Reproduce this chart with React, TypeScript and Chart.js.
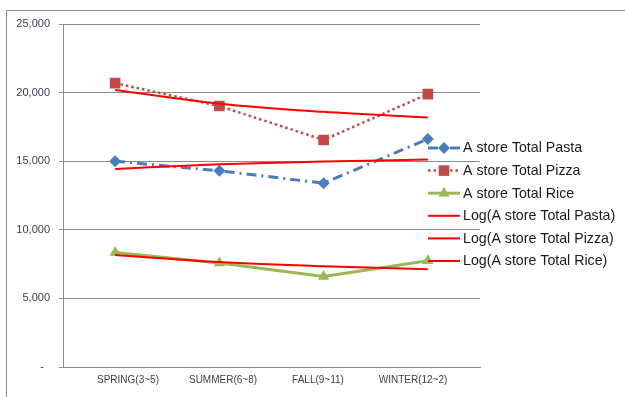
import React, { useEffect, useRef } from "react";
import { Chart, registerables } from "chart.js";

Chart.register(...registerables);

const categories = ["SPRING(3~5)", "SUMMER(6~8)", "FALL(9~11)", "WINTER(12~2)"];
const pastaValues = [15000, 14300, 13400, 16620];
const pizzaValues = [20690, 19020, 16550, 19890];
const riceValues = [8350, 7580, 6600, 7750];
// logarithmic trend lines
const pastaTrend = [14440, 14780, 14980, 15120];
const pizzaTrend = [20190, 19190, 18600, 18180];
const riceTrend = [8170, 7650, 7340, 7130];
const yTicks = [0, 5000, 10000, 15000, 20000, 25000];

const FONT = "'Liberation Sans', Arial, sans-serif";

export default function App() {
  const ref = useRef<HTMLCanvasElement | null>(null);

  useEffect(() => {
    const canvas = ref.current;
    if (!canvas) return;

    const frame = {
      id: "frame",
      beforeDraw(chart: any) {
        const ctx = chart.ctx;
        ctx.save();
        ctx.fillStyle = "#ffffff";
        ctx.fillRect(0, 0, chart.width, chart.height);
        ctx.strokeStyle = "#8c8c8c";
        ctx.lineWidth = 1;
        ctx.beginPath();
        ctx.moveTo(6.5, chart.height + 2);
        ctx.lineTo(6.5, 10.5);
        ctx.lineTo(chart.width + 2, 10.5);
        ctx.stroke();
        ctx.restore();
      },
    };

    const legend = {
      id: "customLegend",
      afterDraw(chart: any) {
        const ctx = chart.ctx;
        const x0 = 428;
        const x1 = 460;
        const tx = 463;
        const y0 = 148;
        const step = 22.6;
        chart.data.datasets.forEach((ds: any, i: number) => {
          const y = y0 + i * step;
          ctx.save();
          ctx.strokeStyle = ds.borderColor;
          ctx.lineWidth = ds.borderWidth;
          ctx.setLineDash(ds.borderDash || []);
          ctx.beginPath();
          ctx.moveTo(x0, y);
          ctx.lineTo(x1, y);
          ctx.stroke();
          ctx.setLineDash([]);
          if (ds.pointRadius > 0) {
            ctx.fillStyle = ds.pointBackgroundColor;
            const cx = (x0 + x1) / 2;
            const r = ds.pointRadius;
            ctx.beginPath();
            if (ds.pointStyle === "rectRot") {
              ctx.moveTo(cx - r, y);
              ctx.lineTo(cx, y - r);
              ctx.lineTo(cx + r, y);
              ctx.lineTo(cx, y + r);
            } else if (ds.pointStyle === "rect") {
              const s = Math.SQRT1_2 * r;
              ctx.rect(cx - s, y - s, 2 * s, 2 * s);
            } else {
              const h = (r * 3) / Math.sqrt(3);
              ctx.moveTo(cx, y - r);
              ctx.lineTo(cx + h / 2, y + r / 2);
              ctx.lineTo(cx - h / 2, y + r / 2);
            }
            ctx.closePath();
            ctx.fill();
          }
          ctx.fillStyle = "#1a1a1a";
          ctx.font = `14.2px ${FONT}`;
          ctx.textBaseline = "middle";
          ctx.textAlign = "left";
          ctx.fillText(ds.label, tx, y + 0.5);
          ctx.restore();
        });
      },
    };

    const chart = new Chart(canvas, {
      type: "line",
      data: {
        labels: categories,
        datasets: [
          {
            label: "A store Total Pasta",
            data: pastaValues,
            borderColor: "#4a7ebb",
            borderWidth: 3,
            borderDash: [10, 5, 2, 5],
            pointStyle: "rectRot",
            pointRadius: 6,
            pointBackgroundColor: "#4a7ebb",
            pointBorderColor: "#4a7ebb",
            pointBorderWidth: 0,
            order: 3,
          },
          {
            label: "A store Total Pizza",
            data: pizzaValues,
            borderColor: "#be4b48",
            borderWidth: 2.5,
            borderDash: [2.5, 3],
            pointStyle: "rect",
            pointRadius: 7.5,
            pointBackgroundColor: "#be4b48",
            pointBorderColor: "#be4b48",
            pointBorderWidth: 0,
            order: 3,
          },
          {
            label: "A store Total Rice",
            data: riceValues,
            borderColor: "#98b954",
            borderWidth: 3,
            pointStyle: "triangle",
            pointRadius: 6.5,
            pointBackgroundColor: "#98b954",
            pointBorderColor: "#98b954",
            pointBorderWidth: 0,
            order: 3,
          },
          {
            label: "Log(A store Total Pasta)",
            data: pastaTrend,
            borderColor: "#ff0000",
            borderWidth: 2,
            pointRadius: 0,
            cubicInterpolationMode: "monotone",
            order: 1,
          },
          {
            label: "Log(A store Total Pizza)",
            data: pizzaTrend,
            borderColor: "#ff0000",
            borderWidth: 2,
            pointRadius: 0,
            cubicInterpolationMode: "monotone",
            order: 1,
          },
          {
            label: "Log(A store Total Rice)",
            data: riceTrend,
            borderColor: "#ff0000",
            borderWidth: 2,
            pointRadius: 0,
            cubicInterpolationMode: "monotone",
            order: 1,
          },
        ],
      },
      options: {
        animation: false,
        responsive: false,
        maintainAspectRatio: false,
        layout: { padding: { top: 24, right: 145, bottom: 0, left: 0 } },
        plugins: {
          legend: { display: false },
          tooltip: { enabled: false },
        },
        scales: {
          x: {
            offset: true,
            grid: { display: false, drawTicks: false },
            border: { display: true, color: "#8c8c8c", width: 1 },
            ticks: { display: false },
            afterFit(scale: any) {
              scale.height = 0;
            },
          },
          xLabels: {
            type: "linear",
            position: "bottom",
            min: -0.684,
            max: 3.705,
            afterBuildTicks(scale: any) {
              scale.ticks = categories.map((_, i) => ({ value: i }));
            },
            grid: { display: false, drawTicks: false },
            border: { display: false },
            ticks: {
              color: "#404040",
              font: { family: FONT, size: 10 },
              padding: 7,
              maxRotation: 0,
              autoSkip: false,
              callback: (v: any) => categories[Math.round(Number(v))] ?? "",
            },
            afterFit(scale: any) {
              scale.height = 30;
            },
          },
          y: {
            min: 0,
            max: 25000,
            afterBuildTicks(scale: any) {
              scale.ticks = yTicks.map((v) => ({ value: v }));
            },
            grid: {
              color: "#8c8c8c",
              lineWidth: 1,
              tickLength: 4,
              drawTicks: true,
            },
            border: { display: true, color: "#8c8c8c", width: 1 },
            ticks: {
              color: "#3b3b50",
              font: { family: FONT, size: 11 },
              padding: 9,
              callback: (v: any) => (Number(v) === 0 ? "-  " : Number(v).toLocaleString("en-US")),
            },
            afterFit(scale: any) {
              scale.width = 63;
            },
          },
        },
      },
      plugins: [frame, legend],
    } as any);

    return () => chart.destroy();
  }, []);

  return (
    <div style={{ position: "fixed", left: 0, top: 0, width: 625, height: 397, background: "#fff" }}>
      <canvas ref={ref} width={625} height={397} style={{ width: 625, height: 397, display: "block" }} />
    </div>
  );
}
